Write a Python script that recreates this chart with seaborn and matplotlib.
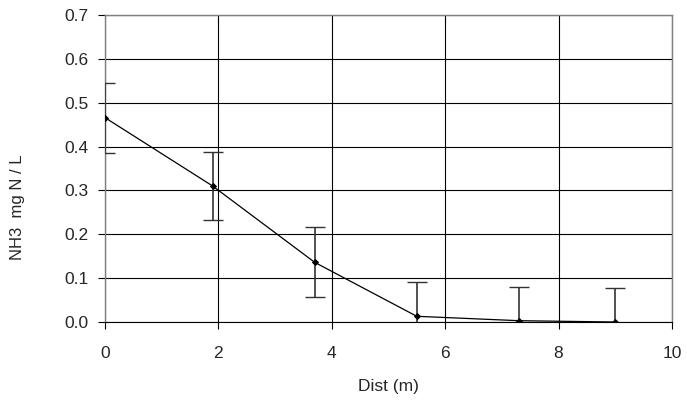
import matplotlib
matplotlib.use("Agg")
import matplotlib.pyplot as plt
import seaborn as sns
import pandas as pd
from matplotlib.ticker import FormatStrFormatter

# Ammonia concentration along the transect
dist = [0.0, 1.9, 3.7, 5.5, 7.3, 9.0]
nh3 = [0.466, 0.310, 0.136, 0.013, 0.003, 0.0]
err = [0.080, 0.078, 0.080, 0.079, 0.077, 0.078]
x_ticks = [0, 2, 4, 6, 8, 10]
y_ticks = [0.0, 0.1, 0.2, 0.3, 0.4, 0.5, 0.6, 0.7]

df = pd.DataFrame({"Dist (m)": dist, "NH3": nh3, "err": err})

sns.set_theme(style="white")
plt.rcParams["font.family"] = ["Liberation Sans", "DejaVu Sans"]

fig = plt.figure(figsize=(6.87, 4.01), dpi=100)
ax = fig.add_axes([0.1528, 0.197, 0.8252, 0.7656])

ax.errorbar(df["Dist (m)"], df["NH3"], yerr=df["err"], fmt="none",
            ecolor="#333333", elinewidth=1.2, capsize=7, capthick=1.0, zorder=3)
sns.lineplot(data=df, x="Dist (m)", y="NH3", ax=ax, color="black",
             linewidth=0.9, marker="D", markersize=3, markeredgecolor="black",
             zorder=4)

ax.set_xlim(0, 10)
ax.set_ylim(0, 0.7)
ax.set_xticks(x_ticks)
ax.set_yticks(y_ticks)
ax.yaxis.set_major_formatter(FormatStrFormatter("%.1f"))
ax.grid(True, color="black", linewidth=0.8)
ax.set_axisbelow(True)

for side in ["left", "top", "right"]:
    ax.spines[side].set_color("#7f7f7f")
    ax.spines[side].set_linewidth(1.0)
ax.spines["bottom"].set_color("black")
ax.spines["bottom"].set_linewidth(0.8)

ax.tick_params(axis="both", which="major", direction="out", length=5,
               width=0.8, color="black", labelsize=12.5,
               bottom=True, left=True, top=False, right=False)
ax.tick_params(axis="y", pad=7)
ax.tick_params(axis="x", pad=12)

ax.set_xlabel("Dist (m)", fontsize=12.5)
ax.set_ylabel("NH3  mg N / L", fontsize=12)
ax.xaxis.set_label_coords(0.5, -0.186)
ax.yaxis.set_label_coords(-0.141, 0.375)

fig.savefig("out.png", dpi=100)
